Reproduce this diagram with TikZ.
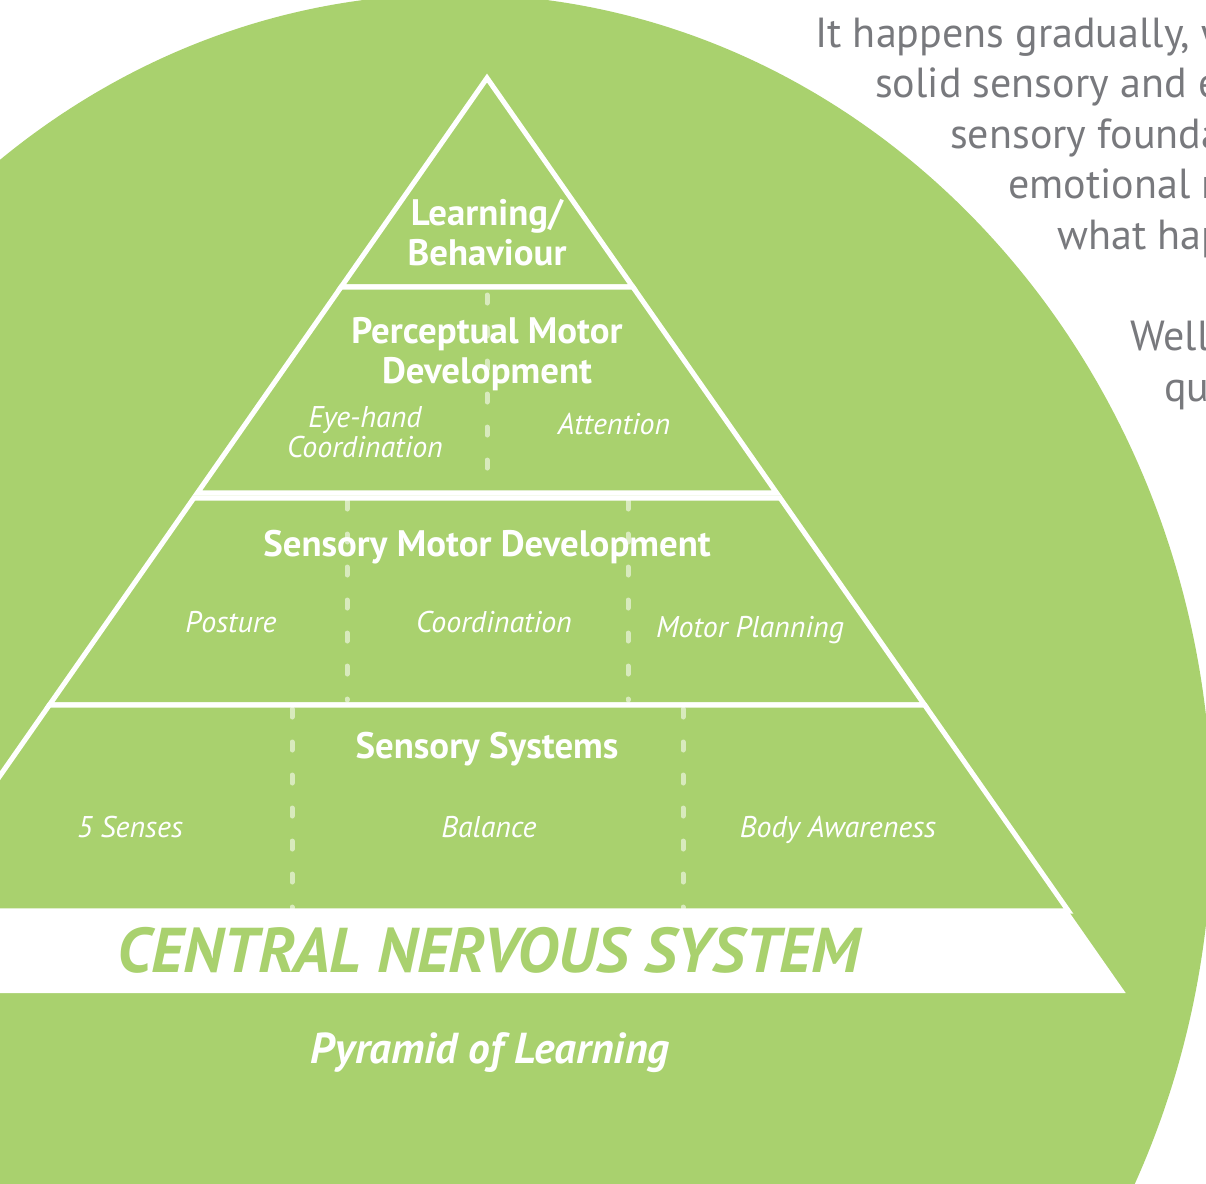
\documentclass[tikz,border=0pt]{standalone}
\usepackage{fontspec}
\setmainfont{PT Sans}
\begin{document}
\begin{tikzpicture}[x=0.025cm,y=-0.025cm,
  tier/.style={fill=kGreen,draw=white,line width=3.6pt,line join=miter},
  divider/.style={draw=white,draw opacity=0.55,line width=0.125cm,line cap=round,dash pattern=on 0.2cm off 0.625cm},
  head/.style={anchor=base,text=white,font=\bfseries\fontsize{26.2pt}{30pt}\selectfont,inner sep=0pt},
  label/.style={anchor=base,text=white,font=\itshape\fontsize{21.3pt}{25pt}\selectfont,inner sep=0pt},
  side/.style={anchor=base west,text=kGrey,font=\fontsize{29.9pt}{36pt}\selectfont,inner sep=0pt}]
  % colors
  \definecolor{kGreen}{rgb}{0.663,0.820,0.431}
  \definecolor{kGrey}{rgb}{0.47,0.475,0.49}
  % frame
  \useasboundingbox (0,0) rectangle (1206,1184);
  \clip (0,0) rectangle (1206,1184);
  % disc
  \fill[kGreen] (455,820) ellipse [x radius=757, y radius=826];
  % pyramid
  \draw[tier] (487,78) -- (632.9,287) -- (341.1,287) -- cycle;
  \foreach \ya/\yb in {287/493, 498/705, 705/911} {
    \draw[tier] ({487-0.698*(\ya-78)},\ya) -- ({487+0.698*(\ya-78)},\ya)
      -- ({487+0.698*(\yb-78)},\yb) -- ({487-0.698*(\yb-78)},\yb) -- cycle;
  };
  \fill[white] (-94.4,911) -- (1068.4,911) -- (1125.7,993) -- (-151.7,993) -- cycle;
  % dashed dividers
  \foreach \x/\ya/\yb in {487/295/490, 347/501/700, 628/501/700, 292/709/908, 683/709/908} {
    \draw[divider] (\x,\ya) -- (\x,\yb);
  };
  % tier texts
  \node[head] (learnA) at (487,225) {Learning/};
  \node[head] (learnB) at (487,265) {Behaviour};
  \node[head] (percA) at (487,343) {Perceptual Motor};
  \node[head] (percB) at (487,383) {Development};
  \node[label] (eyeA) at (365,427) {Eye-hand};
  \node[label] (eyeB) at (365,457) {Coordination};
  \node[label] (attn) at (614,434) {Attention};
  \node[head] (smd) at (487,556) {Sensory Motor Development};
  \node[label] (posture) at (231,632) {Posture};
  \node[label] (coord) at (494,632) {Coordination};
  \node[label] (plan) at (750,637) {Motor Planning};
  \node[head] (sensys) at (487,758) {Sensory Systems};
  \node[label] (senses) at (130,837) {5 Senses};
  \node[label] (balance) at (489,837) {Balance};
  \node[label] (body) at (838,837) {Body Awareness};
  \node[anchor=base,text=kGreen,inner sep=0pt,font=\bfseries\itshape\fontsize{45pt}{50pt}\selectfont] (cns) at (489,972) {CENTRAL NERVOUS SYSTEM};
  \node[anchor=base,text=white,inner sep=0pt,font=\bfseries\itshape\fontsize{30.8pt}{35pt}\selectfont] (title) at (490,1063) {Pyramid of Learning};
  % side text
  \foreach \x/\y/\t [count=\i] in {815/47/{It happens gradually, w}, 875/97/{solid sensory and e},
      950/148/{sensory founda}, 1008/198/{emotional r}, 1057/249/{what hap}, 1130/350/{Well,}, 1164/401/{qu}} {
    \node[side] (side\i) at (\x,\y) {\t};
  };
\end{tikzpicture}
\end{document}
